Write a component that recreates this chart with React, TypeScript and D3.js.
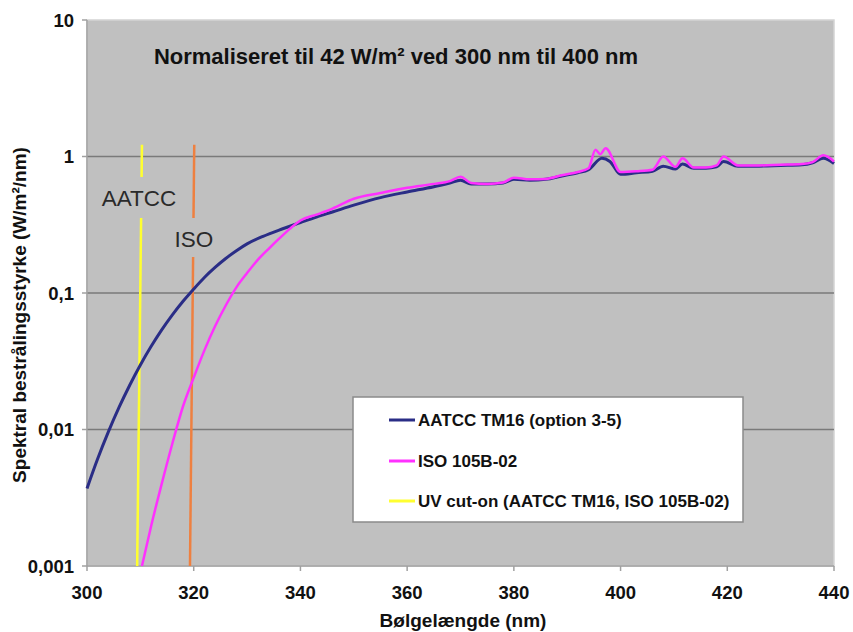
import React from 'react';
import * as d3 from 'd3';

// wavelength (nm) samples
const aatccWl = [300, 302, 304, 306, 308, 310, 312, 314, 316, 318, 320, 322, 324, 326, 328, 330, 333, 336, 340, 343, 346, 350, 355, 360, 365, 368, 370, 372, 375, 378, 380, 383, 386, 389, 392, 394, 396.5, 398, 400, 403, 406, 408, 410.3, 411.6, 413.7, 416, 418, 419.3, 422, 426, 430, 434, 436, 438, 440];
const aatccVal = [0.0037, 0.0061, 0.0096, 0.0145, 0.0211, 0.0297, 0.0405, 0.0537, 0.0692, 0.0871, 0.107, 0.13, 0.154, 0.179, 0.204, 0.229, 0.26, 0.289, 0.328, 0.36, 0.392, 0.44, 0.5, 0.55, 0.6, 0.64, 0.67, 0.63, 0.63, 0.64, 0.68, 0.67, 0.68, 0.72, 0.76, 0.8, 0.97, 0.92, 0.74, 0.76, 0.78, 0.85, 0.81, 0.88, 0.82, 0.82, 0.84, 0.92, 0.85, 0.85, 0.86, 0.87, 0.9, 0.97, 0.89];

const isoWl = [310.3, 312, 314, 316, 318, 320, 322, 324, 326, 328, 330, 332, 334, 336, 338, 340, 343, 346, 350, 355, 360, 365, 368, 370, 372, 375, 378, 380, 383, 386, 389, 392, 394, 395.3, 396.2, 397.2, 400, 403, 406, 408, 410.3, 411.6, 413.7, 416, 418, 419.3, 422, 426, 430, 434, 436, 438, 440];
const isoVal = [0.001, 0.00195, 0.004, 0.0079, 0.0148, 0.024, 0.038, 0.057, 0.081, 0.11, 0.14, 0.175, 0.21, 0.25, 0.295, 0.34, 0.375, 0.415, 0.49, 0.54, 0.59, 0.63, 0.66, 0.71, 0.64, 0.63, 0.645, 0.7, 0.68, 0.685, 0.73, 0.77, 0.82, 1.12, 1.04, 1.15, 0.77, 0.78, 0.8, 1.0, 0.84, 0.97, 0.83, 0.83, 0.86, 1.0, 0.86, 0.86, 0.87, 0.88, 0.91, 1.02, 0.92];

// UV cut-on markers (slightly slanted in the original)
const aatccCutWl = [310.3, 309.4];
const isoCutWl = [320.1, 319.3];
const cutVal = [1.22, 0.001];

const xTicks = [300, 320, 340, 360, 380, 400, 420, 440];
const yTicks = [0.001, 0.01, 0.1, 1, 10];
const yTickLabels = ['0,001', '0,01', '0,1', '1', '10'];

const legendLabels = ['AATCC TM16 (option 3-5)', 'ISO 105B-02', 'UV cut-on (AATCC TM16, ISO 105B-02)'];

const BLUE = '#2a2d86';
const MAGENTA = '#ff30ff';
const YELLOW = '#ffff30';
const ORANGE = '#ee8040';
const PLOT_BG = '#c0c0c0';

const FONT = 'Liberation Sans, Arial, sans-serif';

type Pt = { wl: number; v: number };

export default function App() {
  const width = 853;
  const height = 632;
  const left = 87;
  const right = 834;
  const top = 20;
  const bottom = 566;

  const x = d3.scaleLinear().domain([300, 440]).range([left, right]);
  const y = d3.scaleLog().domain([0.001, 10]).range([bottom, top]);

  const zip = (wl: number[], vals: number[]): Pt[] => wl.map((w, i) => ({ wl: w, v: vals[i] }));

  const curve = d3.line<Pt>()
    .x(d => x(d.wl))
    .y(d => y(d.v))
    .curve(d3.curveMonotoneX);

  const straight = d3.line<Pt>()
    .x(d => x(d.wl))
    .y(d => y(d.v));

  const aatcc = zip(aatccWl, aatccVal);
  const iso = zip(isoWl, isoVal);
  const aatccCut = zip(aatccCutWl, cutVal);
  const isoCut = zip(isoCutWl, cutVal);

  const legendX = 353;
  const legendY = 397;
  const legendItems = [
    { label: legendLabels[0], color: BLUE, dy: 23 },
    { label: legendLabels[1], color: MAGENTA, dy: 64 },
    { label: legendLabels[2], color: YELLOW, dy: 104 },
  ];

  return (
    <svg
      width={width}
      height={height}
      style={{ position: 'absolute', left: 0, top: 0, background: '#fff' }}
      fontFamily={FONT}
    >
      {/* plot area */}
      <rect x={left} y={top} width={right - left} height={bottom - top} fill={PLOT_BG} stroke="#d4d4d4" strokeWidth={1.5} />

      {/* horizontal gridlines */}
      {yTicks.slice(1, -1).map(t => (
        <line key={t} x1={left} x2={right} y1={y(t)} y2={y(t)} stroke="#7a7a7a" strokeWidth={1.5} />
      ))}

      {/* axes */}
      <line x1={left} x2={left} y1={top} y2={bottom} stroke="#a0a0a0" strokeWidth={1.5} />
      <line x1={left} x2={right} y1={bottom} y2={bottom} stroke="#a0a0a0" strokeWidth={1.5} />
      {yTicks.map(t => (
        <line key={'yt' + t} x1={left - 5} x2={left} y1={y(t)} y2={y(t)} stroke="#a0a0a0" strokeWidth={1.5} />
      ))}
      {xTicks.map(t => (
        <line key={'xt' + t} x1={x(t)} x2={x(t)} y1={bottom} y2={bottom + 5} stroke="#a0a0a0" strokeWidth={1.5} />
      ))}

      {/* tick labels */}
      {yTicks.map((t, i) => (
        <text key={'yl' + t} x={left - 13} y={y(t)} dy="0.36em" textAnchor="end" fontSize={18.5} fontWeight="bold" fill="#111">
          {yTickLabels[i]}
        </text>
      ))}
      {xTicks.map(t => (
        <text key={'xl' + t} x={x(t)} y={bottom + 33} textAnchor="middle" fontSize={18.5} fontWeight="bold" fill="#111">
          {t}
        </text>
      ))}

      {/* UV cut-on lines */}
      <path d={straight(aatccCut) || ''} fill="none" stroke={YELLOW} strokeWidth={2.5} />
      <path d={straight(isoCut) || ''} fill="none" stroke={ORANGE} strokeWidth={2.5} />

      {/* labels on the cut-on lines, with plot-coloured backing */}
      <rect x={97} y={177} width={86} height={41} fill={PLOT_BG} />
      <text x={139} y={206} textAnchor="middle" fontSize={22.5} fill="#2a2a2a">AATCC</text>
      <rect x={171} y={218} width={46} height={39} fill={PLOT_BG} />
      <text x={194} y={247} textAnchor="middle" fontSize={22.5} fill="#2a2a2a">ISO</text>

      {/* spectra */}
      <path d={curve(aatcc) || ''} fill="none" stroke={BLUE} strokeWidth={3} />
      <path d={curve(iso) || ''} fill="none" stroke={MAGENTA} strokeWidth={2.5} />

      {/* title */}
      <text x={396} y={64} textAnchor="middle" fontSize={22} fontWeight="bold" fill="#111">
        Normaliseret til 42 W/m² ved 300 nm til 400 nm
      </text>

      {/* legend */}
      <rect x={legendX} y={legendY} width={390} height={125} fill="#fff" stroke="#8a8a8a" strokeWidth={1.5} />
      {legendItems.map(item => (
        <g key={item.label}>
          <line x1={legendX + 36} x2={legendX + 62} y1={legendY + item.dy} y2={legendY + item.dy} stroke={item.color} strokeWidth={3} />
          <text x={legendX + 65} y={legendY + item.dy} dy="0.36em" fontSize={17} fontWeight="bold" fill="#111">
            {item.label}
          </text>
        </g>
      ))}

      {/* axis titles */}
      <text x={463} y={627} textAnchor="middle" fontSize={19} fontWeight="bold" fill="#111">
        Bølgelængde (nm)
      </text>
      <text
        transform={`translate(26, ${315}) rotate(-90)`}
        textAnchor="middle"
        fontSize={19}
        fontWeight="bold"
        fill="#111"
      >
        Spektral bestrålingsstyrke (W/m²/nm)
      </text>
    </svg>
  );
}
